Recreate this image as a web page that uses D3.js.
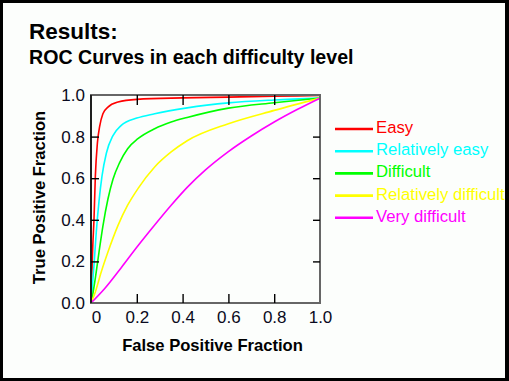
<!DOCTYPE html>
<html>
<head>
<meta charset="utf-8">
<script src="https://cdn.jsdelivr.net/npm/d3@7"></script>
<style>
  html, body { margin: 0; padding: 0; background: #000; }
  svg { display: block; }
  text { font-family: "Liberation Sans", Arial, sans-serif; }
</style>
</head>
<body>
<svg id="chart" width="509" height="381"></svg>
<script>
// ---- data ----
const seriesNames = ["Easy", "Relatively easy", "Difficult", "Relatively difficult", "Very difficult"];
const seriesColors = ["#ff0000", "#00ffff", "#00ff00", "#ffff00", "#ff00ff"];

const easyPts = [[0,0],[0.004,0.15],[0.008,0.28],[0.013,0.4],[0.019,0.61],[0.028,0.77],[0.038,0.85],[0.052,0.91],[0.074,0.942],[0.118,0.966],[0.2,0.979],[0.4,0.986],[0.6,0.99],[0.8,0.994],[1,0.998]];
const relEasyPts = [[0,0],[0.004,0.05],[0.013,0.18],[0.023,0.34],[0.035,0.49],[0.048,0.61],[0.067,0.72],[0.096,0.805],[0.132,0.854],[0.2,0.889],[0.278,0.91],[0.42,0.938],[0.6,0.962],[0.8,0.976],[1,0.985]];
const difficultPts = [[0,0],[0.004,0.02],[0.019,0.12],[0.035,0.245],[0.052,0.37],[0.074,0.5],[0.096,0.595],[0.125,0.675],[0.16,0.742],[0.205,0.79],[0.278,0.838],[0.35,0.87],[0.42,0.892],[0.6,0.937],[0.8,0.963],[1,0.985]];
const relDifficultPts = [[0,0],[0.019,0.053],[0.045,0.15],[0.074,0.245],[0.118,0.373],[0.16,0.47],[0.205,0.55],[0.278,0.654],[0.35,0.726],[0.42,0.78],[0.6,0.862],[0.8,0.926],[1,0.985]];
const veryDifficultPts = [[0,0],[0.06,0.07],[0.132,0.17],[0.205,0.275],[0.278,0.375],[0.35,0.47],[0.42,0.556],[0.5,0.64],[0.6,0.728],[0.7,0.803],[0.8,0.87],[0.9,0.93],[1,0.985]];

const seriesData = [easyPts, relEasyPts, difficultPts, relDifficultPts, veryDifficultPts];

const xTickValues = [0, 0.2, 0.4, 0.6, 0.8, 1.0];
const xTickLabels = ["0", "0.2", "0.4", "0.6", "0.8", "1.0"];
const yTickValues = [0, 0.2, 0.4, 0.6, 0.8, 1.0];
const yTickLabels = ["0.0", "0.2", "0.4", "0.6", "0.8", "1.0"];

const titleText = "Results:";
const subtitleText = "ROC Curves in each difficulty level";
const xTitle = "False Positive Fraction";
const yTitle = "True Positive Fraction";

// ---- drawing ----
const svg = d3.select("#chart");
const W = 509, H = 381;

// page with black frame
svg.append("rect").attr("x", 0).attr("y", 0).attr("width", W).attr("height", H).attr("fill", "#000");
svg.append("rect").attr("x", 3).attr("y", 3).attr("width", W - 7).attr("height", H - 6).attr("fill", "#fcfefc");

svg.append("text").attr("x", 29).attr("y", 39)
  .attr("font-size", 22.5).attr("font-weight", "bold").attr("fill", "#000").text(titleText);
svg.append("text").attr("x", 29).attr("y", 64)
  .attr("font-size", 19.6).attr("font-weight", "bold").attr("fill", "#000").text(subtitleText);

const x = d3.scaleLinear().domain([0, 1]).range([91, 320]);
const y = d3.scaleLinear().domain([0, 1]).range([303, 95]);

// curves
const line = d3.line().x(d => x(d[0])).y(d => y(d[1])).curve(d3.curveMonotoneX);
const curves = svg.append("g");
seriesData.forEach((pts, i) => {
  curves.append("path").datum(pts)
    .attr("d", line)
    .attr("fill", "none")
    .attr("stroke", seriesColors[i])
    .attr("stroke-width", 1.6);
});

// frame
svg.append("rect").attr("x", x(0)).attr("y", y(1)).attr("width", x(1) - x(0)).attr("height", y(0) - y(1))
  .attr("fill", "none").attr("stroke", "#666").attr("stroke-width", 2);
svg.append("line").attr("x1", x(0)).attr("x2", x(0)).attr("y1", y(1)).attr("y2", y(0))
  .attr("stroke", "#000").attr("stroke-width", 1.4);

// inner tick marks
const innerX = xTickValues.filter(v => v > 0 && v < 1);
const innerY = yTickValues.filter(v => v > 0 && v < 1);
const markBottom = d3.axisBottom(x).tickValues(innerX).tickSize(-9).tickFormat("");
const markTop = d3.axisTop(x).tickValues(innerX).tickSize(-10).tickFormat("");
const markLeft = d3.axisLeft(y).tickValues(innerY).tickSize(-8).tickFormat("");
const markRight = d3.axisRight(y).tickValues(innerY).tickSize(-7).tickFormat("");
[[markBottom, `translate(0,${y(0)})`], [markTop, `translate(0,${y(1)})`],
 [markLeft, `translate(${x(0)},0)`], [markRight, `translate(${x(1)},0)`]].forEach(([ax, tr]) => {
  const g = svg.append("g").attr("transform", tr).call(ax);
  g.select(".domain").remove();
  g.selectAll("line").attr("stroke", "#000").attr("stroke-width", 1.4);
});

// tick labels
const xLab = svg.append("g").attr("transform", `translate(0,${y(0)})`)
  .call(d3.axisBottom(x).tickValues(xTickValues).tickSize(0).tickPadding(8)
    .tickFormat((d, i) => xTickLabels[i]));
xLab.select(".domain").remove();
xLab.selectAll("text").attr("font-size", 17).attr("font-family", "Liberation Sans, Arial, sans-serif")
  .attr("fill", "#0a0a20").attr("dx", (d, i) => i === 0 ? 5 : 0);

const yLab = svg.append("g").attr("transform", `translate(${x(0)},0)`)
  .call(d3.axisLeft(y).tickValues(yTickValues).tickSize(0).tickPadding(6)
    .tickFormat((d, i) => yTickLabels[i]));
yLab.select(".domain").remove();
yLab.selectAll("text").attr("font-size", 17).attr("font-family", "Liberation Sans, Arial, sans-serif")
  .attr("fill", "#0a0a20");

// axis titles
svg.append("text").attr("x", 212.5).attr("y", 351).attr("text-anchor", "middle")
  .attr("font-size", 16.6).attr("font-weight", "bold").attr("fill", "#000").text(xTitle);
svg.append("text").attr("transform", "translate(45,197.5) rotate(-90)").attr("text-anchor", "middle")
  .attr("font-size", 16.6).attr("font-weight", "bold").attr("fill", "#000").text(yTitle);

// legend
const legend = svg.append("g");
seriesNames.forEach((name, i) => {
  const ly = 129 + i * 22.2;
  legend.append("line").attr("x1", 335).attr("x2", 373).attr("y1", ly).attr("y2", ly)
    .attr("stroke", seriesColors[i]).attr("stroke-width", 2.6);
  legend.append("text").attr("x", 376).attr("y", ly + 4)
    .attr("font-size", 16.7).attr("fill", seriesColors[i]).text(name);
});
</script>
</body>
</html>
